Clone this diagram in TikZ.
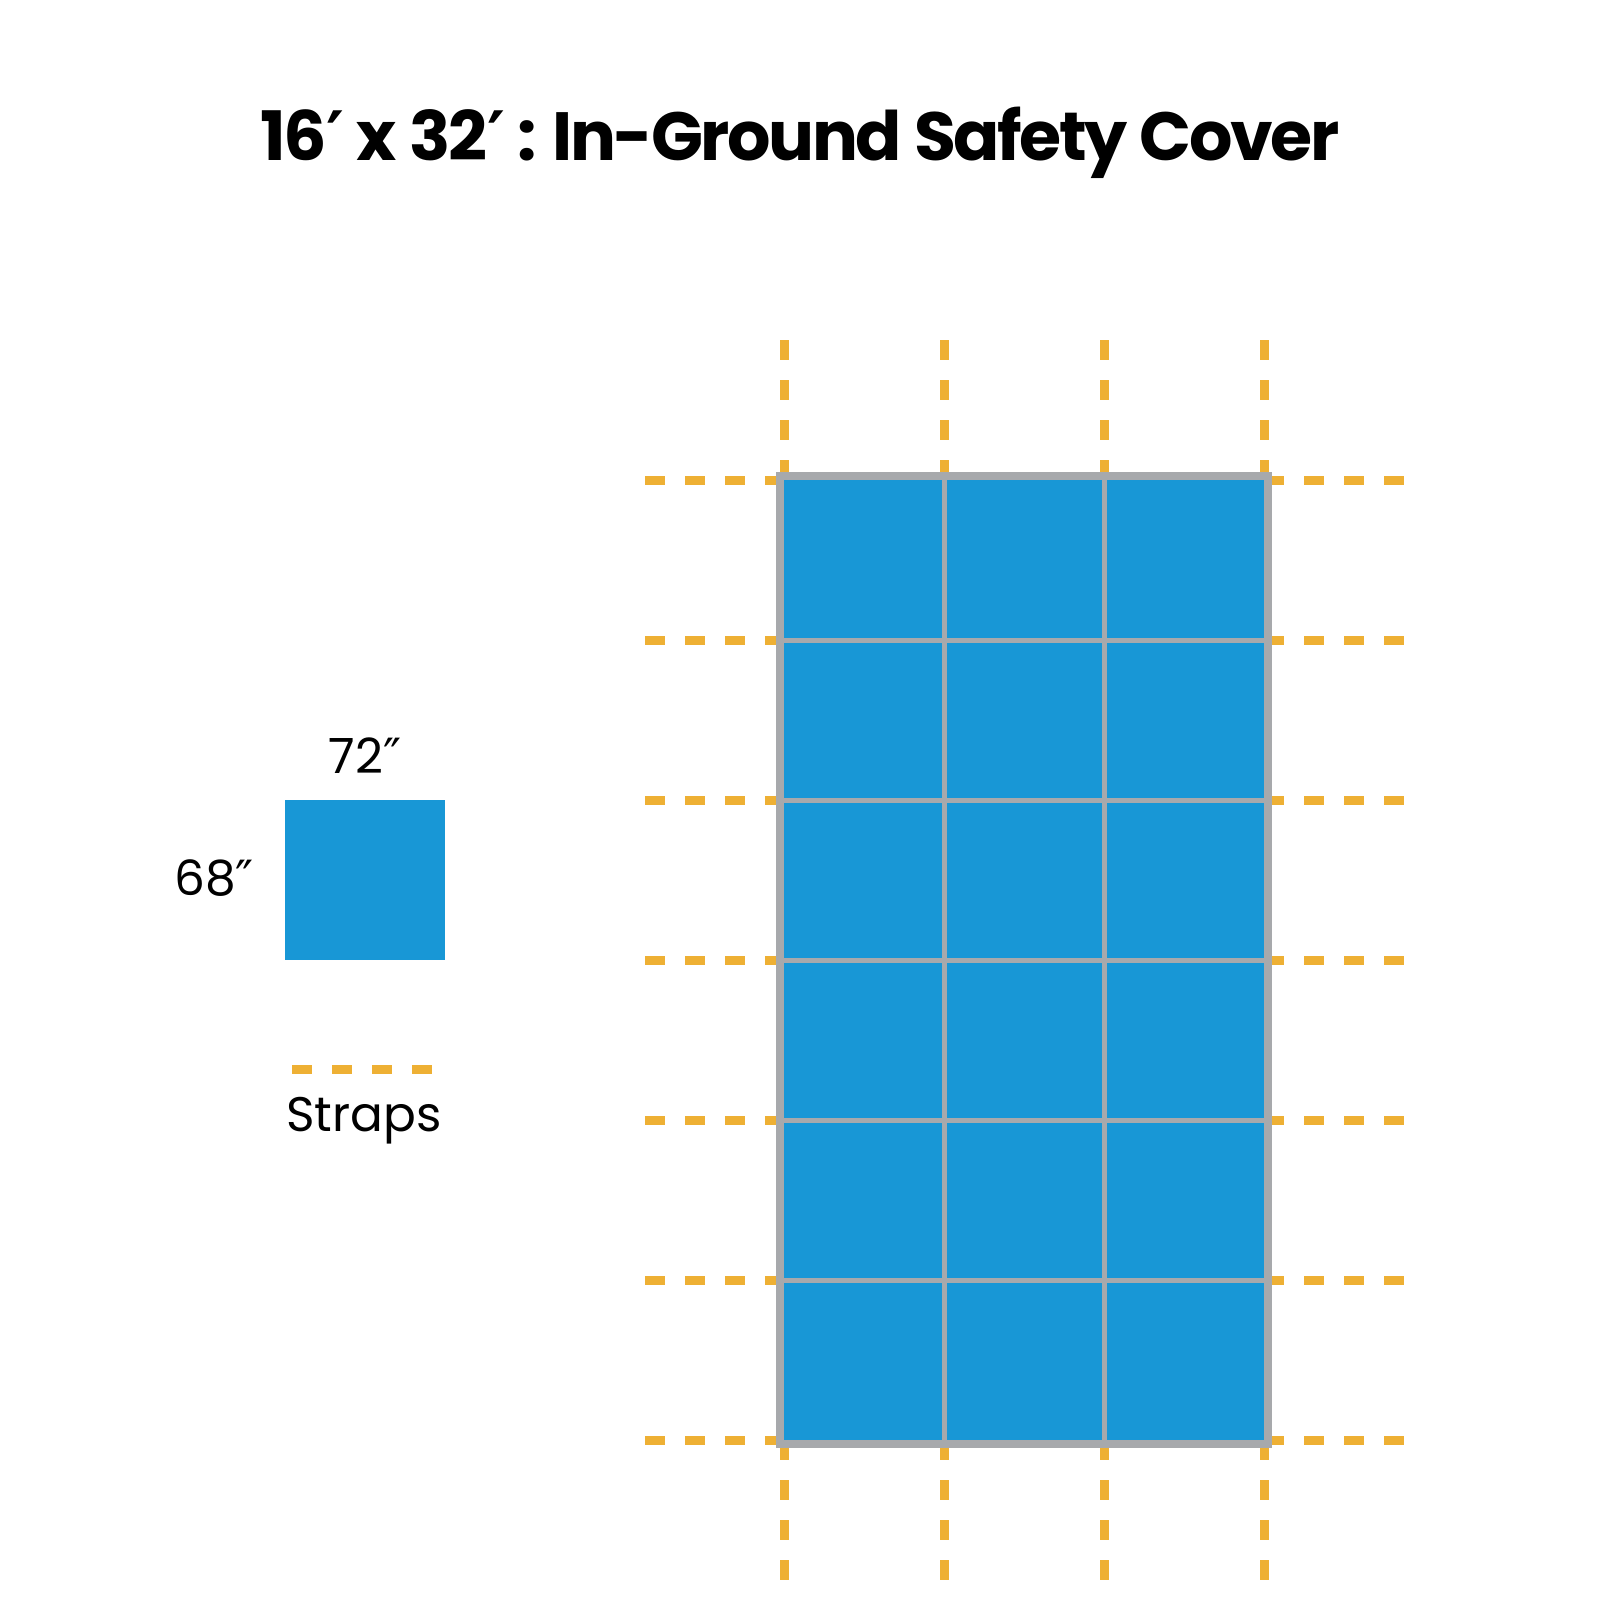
\documentclass[tikz,border=0pt]{standalone}
\usepackage{fontspec}
\setmainfont{Poppins}
\newfontfamily\primefont{DejaVu Sans}
\newcommand{\ft}{{\primefont ′}}
\newcommand{\inch}{{\primefont ″}}
\definecolor{coverblue}{RGB}{24,151,214}
\definecolor{seamgray}{RGB}{167,169,172}
\definecolor{strapgold}{RGB}{238,176,52}
\begin{document}
\begin{tikzpicture}
    [
    x=0.01cm, y=-0.01cm,
    strap/.style={draw=strapgold,line width=0.9mm,dash pattern=on 2mm off 2mm},
    seam/.style={draw=seamgray,line width=0.5mm},
    border/.style={draw=seamgray,line width=0.8mm},
    panel/.style={fill=coverblue,inner sep=0pt,minimum width=1.6cm,minimum height=1.6cm},
    label/.style={font=\fontsize{13.8}{16}\selectfont,inner sep=0pt,anchor=base},
    ]
    \useasboundingbox (0,0) rectangle (1600,1600);
    \node[font=\fontsize{19.4}{22}\selectfont\bfseries\addfontfeatures{LetterSpace=-3.5},inner sep=0pt,anchor=base] (title) at (800,160) {16\ft{} x 32\ft{} : In-Ground Safety Cover};
    % straps around the cover
    \foreach \x in {784,944,1104,1264} {
      \draw[strap] (\x,340) -- (\x,480);
      \draw[strap] (\x,1440) -- (\x,1580);
    }
    \foreach \y in {480,640,...,1440} {
      \draw[strap] (645,\y) -- (785,\y);
      \draw[strap] (1264,\y) -- (1404,\y);
    }
    % cover with panel seams
    \fill[coverblue] (780,476) rectangle (1268,1444);
    \foreach \x in {944,1104}
      \draw[seam] (\x,476) -- (\x,1444);
    \foreach \y in {640,800,...,1280}
      \draw[seam] (780,\y) -- (1268,\y);
    \draw[border] (780,476) rectangle (1268,1444);
    % legend
    \node[panel] (swatch) at (365,880) {};
    \node[label] (width) at (365,773) {72\inch};
    \node[label] (height) at (214,895) {68\inch};
    \draw[strap] (292,1069) -- (432,1069);
    \node[label] (straps) at (364,1131) {Straps};
\end{tikzpicture}
\end{document}
